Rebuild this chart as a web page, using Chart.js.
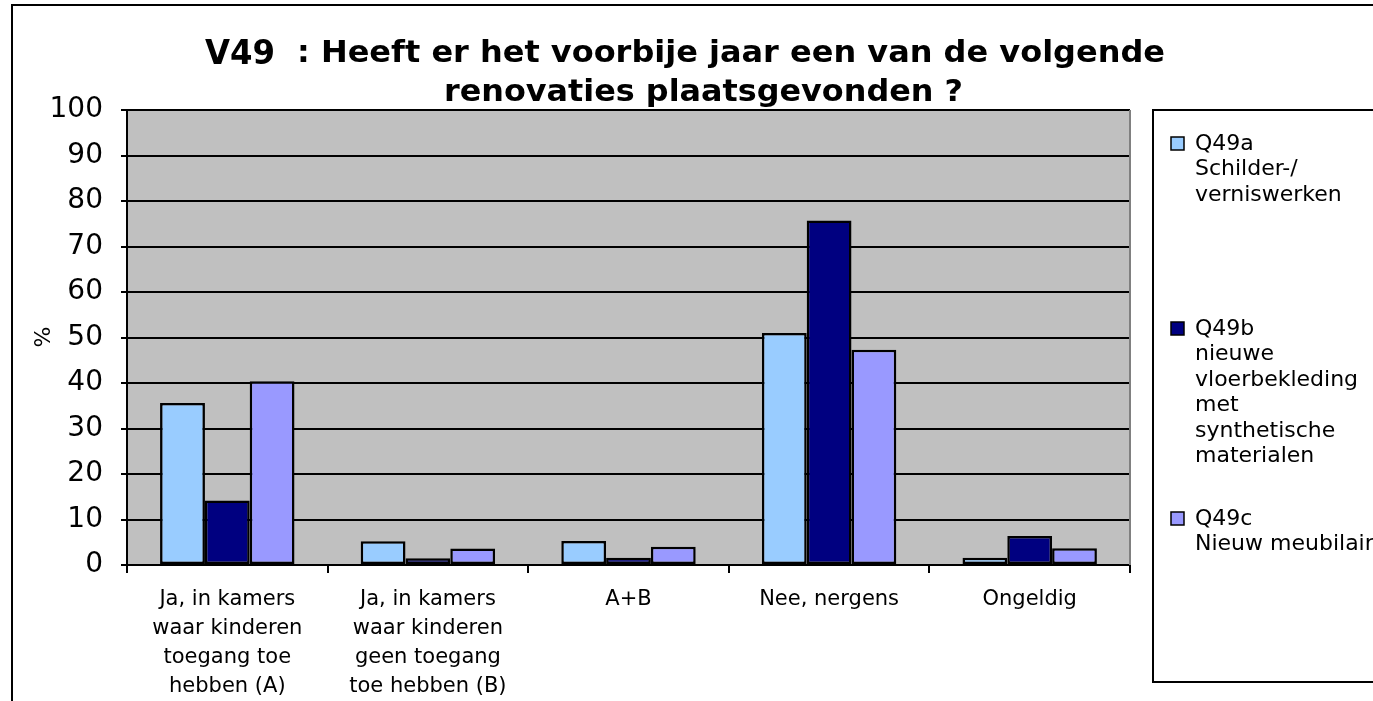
<!DOCTYPE html>
<html>
<head>
<meta charset="utf-8">
<title>V49 renovaties</title>
<script src="https://cdn.jsdelivr.net/npm/chart.js@4.4.1/dist/chart.umd.min.js"></script>
<style>
  html, body { margin: 0; padding: 0; background: #ffffff; }
  #wrap { width: 1373px; height: 701px; }
</style>
</head>
<body>
<div id="wrap"><canvas id="chart" width="1373" height="701"></canvas></div>
<script>
// categories (x axis) and series values in %
const categories = [
    ['Ja, in kamers', 'waar kinderen', 'toegang toe', 'hebben (A)'],
    ['Ja, in kamers', 'waar kinderen', 'geen toegang', 'toe hebben (B)'],
    'A+B',
    'Nee, nergens',
    'Ongeldig'
];
const q49a = [35.6, 5.2, 5.3, 51.0, 1.6];
const q49b = [14.2, 1.5, 1.6, 75.7, 6.4];
const q49c = [40.4, 3.6, 4.0, 47.3, 3.7];

const seriesLabels = [
    ['Q49a', 'Schilder-/', 'verniswerken'],
    ['Q49b', 'nieuwe', 'vloerbekleding', 'met', 'synthetische', 'materialen'],
    ['Q49c', 'Nieuw meubilair']
];
const seriesColors = ['#99ccff', '#000080', '#9999ff'];
const titleCode = 'V49';
const titleLines = [': Heeft er het voorbije jaar een van de volgende', 'renovaties plaatsgevonden ?'];
const yTitle = '%';

// draw text squeezed/stretched horizontally to a given width
function stretchText(ctx, text, x, y, width) {
    const w = ctx.measureText(text).width;
    ctx.save();
    ctx.translate(x, y);
    ctx.scale(width / w, 1);
    ctx.textAlign = 'left';
    ctx.fillText(text, 0, 0);
    ctx.restore();
}

// Plot area, frame, title and legend
const decor = {
    id: 'decor',
    beforeDraw(chart) {
        const { ctx, chartArea: a } = chart;
        ctx.save();
        ctx.fillStyle = '#ffffff';
        ctx.fillRect(0, 0, chart.width, chart.height);
        ctx.fillStyle = '#c0c0c0';
        ctx.fillRect(a.left, a.top, a.right - a.left, a.bottom - a.top);
        ctx.restore();
    },
    afterDraw(chart) {
        const { ctx, chartArea: a } = chart;
        ctx.save();

        // outer frame
        ctx.strokeStyle = '#000000';
        ctx.lineWidth = 2;
        ctx.strokeRect(12, 5, 1400, 720);

        // plot right edge
        ctx.strokeStyle = '#808080';
        ctx.beginPath();
        ctx.moveTo(a.right, a.top);
        ctx.lineTo(a.right, a.bottom);
        ctx.stroke();

        // title
        ctx.fillStyle = '#000000';
        ctx.textBaseline = 'alphabetic';
        ctx.font = 'bold 34px "DejaVu Sans"';
        stretchText(ctx, titleCode, 205, 64, 70);
        ctx.font = 'bold 30px "DejaVu Sans"';
        stretchText(ctx, titleLines[0], 297, 62, 868);
        stretchText(ctx, titleLines[1], 444, 101, 519);

        // y title
        ctx.save();
        ctx.translate(44, 337);
        ctx.rotate(-Math.PI / 2);
        ctx.font = '22px "DejaVu Sans"';
        ctx.textAlign = 'center';
        ctx.textBaseline = 'middle';
        ctx.fillText(yTitle, 0, 0);
        ctx.restore();

        // legend box
        ctx.strokeStyle = '#000000';
        ctx.lineWidth = 2;
        ctx.strokeRect(1153, 110, 400, 572);
        const starts = [144, 329, 519];
        ctx.font = '22px "DejaVu Sans"';
        ctx.textAlign = 'left';
        ctx.textBaseline = 'middle';
        seriesLabels.forEach((lines, i) => {
            const y0 = starts[i];
            ctx.fillStyle = seriesColors[i];
            ctx.fillRect(1171, y0 - 7, 13, 13);
            ctx.lineWidth = 1.5;
            ctx.strokeRect(1171, y0 - 7, 13, 13);
            ctx.fillStyle = '#000000';
            lines.forEach((t, j) => ctx.fillText(t, 1195, y0 + j * 25.5));
        });
        ctx.restore();
    }
};

const barStyle = { borderColor: '#000000', borderWidth: 2.5, borderSkipped: false };

new Chart(document.getElementById('chart'), {
    type: 'bar',
    data: {
        labels: categories,
        datasets: [
            { label: seriesLabels[0].join(' '), data: q49a, backgroundColor: seriesColors[0], ...barStyle },
            { label: seriesLabels[1].join(' '), data: q49b, backgroundColor: seriesColors[1], ...barStyle },
            { label: seriesLabels[2].join(' '), data: q49c, backgroundColor: seriesColors[2], ...barStyle }
        ]
    },
    options: {
        responsive: false,
        animation: false,
        events: [],
        layout: { padding: { top: 110, right: 243, left: 0, bottom: 0 } },
        datasets: { bar: { categoryPercentage: 0.67, barPercentage: 1.0 } },
        plugins: {
            legend: { display: false },
            title: { display: false },
            tooltip: { enabled: false }
        },
        scales: {
            x: {
                afterFit(s) { s.height = 136; },
                grid: { display: true, drawOnChartArea: false, drawTicks: true, tickLength: 8, color: '#000000', lineWidth: 2, offset: true },
                border: { display: true, color: '#000000', width: 2 },
                ticks: {
                    color: '#000000',
                    padding: 12,
                    maxRotation: 0,
                    autoSkip: false,
                    font: { family: '"DejaVu Sans"', size: 21, lineHeight: 1.38 }
                }
            },
            y: {
                min: 0,
                max: 100,
                afterFit(s) { s.width = 127; },
                grid: { color: '#000000', lineWidth: 2, tickLength: 6, tickColor: '#000000' },
                border: { display: true, color: '#000000', width: 2 },
                ticks: {
                    stepSize: 10,
                    color: '#000000',
                    padding: 18,
                    font: { family: '"DejaVu Sans"', size: 28 }
                }
            }
        }
    },
    plugins: [decor]
});
</script>
</body>
</html>
